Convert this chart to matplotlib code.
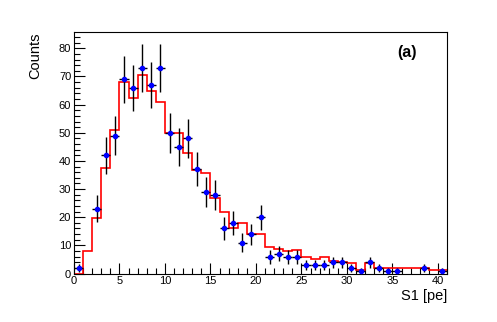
import numpy as np
import matplotlib
matplotlib.use('Agg')
import matplotlib.pyplot as plt
from matplotlib.ticker import MultipleLocator

plt.rcParams['font.family'] = ['Liberation Sans', 'DejaVu Sans']

# bin edges 0..41, width 1
edges = np.arange(0, 42, 1.0)
centers = edges[:-1] + 0.5

# measured counts per bin
counts = np.array([2, 0, 23, 42, 49, 69, 66, 73, 67, 73,
                   50, 45, 48, 37, 29, 28, 16, 18, 11, 14,
                   20, 6, 7, 6, 6, 3, 3, 3, 4, 4,
                   2, 1, 4, 2, 1, 1, 0, 0, 2, 0,
                   1])

# model histogram (red)
model = np.array([0, 8.1, 19.6, 37.6, 51, 67.9, 62.2, 70.5, 64.9, 60.8,
                  50, 49.8, 42.7, 36.8, 35.6, 26.8, 22, 16.3, 18, 14,
                  14, 9.5, 8.7, 8, 8.2, 5.7, 5.1, 5.7, 4.3, 4,
                  3.6, 1.2, 3.6, 1.8, 1.8, 1.9, 1.9, 2.0, 2.0, 1.1,
                  1.3])

fig = plt.figure(figsize=(4.97, 3.22), dpi=100)
ax = fig.add_axes([0.1489, 0.1506, 0.8994 - 0.1489, 0.9006 - 0.1506])

ax.stairs(model, edges, color='red', lw=1.2, baseline=None, zorder=2)

m = counts > 0
ax.errorbar(centers[m], counts[m], yerr=np.sqrt(counts[m]), xerr=0.5,
            fmt='none', ecolor='black', elinewidth=1.0, capsize=0, zorder=3)
ax.plot(centers[m], counts[m], 'o', color='blue', ms=3.0, mec='blue', zorder=4)

ax.set_xlim(0, 41)
ax.set_ylim(0, 85.8)

ax.xaxis.set_major_locator(MultipleLocator(5))
ax.xaxis.set_minor_locator(MultipleLocator(1))
ax.yaxis.set_major_locator(MultipleLocator(10))
ax.yaxis.set_minor_locator(MultipleLocator(2))
ax.tick_params(which='both', direction='in', top=False, right=False,
               labelsize=8, width=0.8, pad=2)
ax.tick_params(which='major', length=8)
ax.tick_params(which='minor', length=4)
for s in ax.spines.values():
    s.set_linewidth(0.8)

ax.set_xlabel('S1 [pe]', fontsize=10.5, loc='right', labelpad=2)
ax.set_ylabel('Counts', fontsize=10.5, loc='top', labelpad=12)

# panel tag, placed in pixel coordinates (origin bottom-left)
ax.text(407, 322 - 52.5, '(a)', transform=None, fontsize=11.5,
        fontweight='bold', ha='center', va='center')

fig.savefig('out.png', dpi=100)
